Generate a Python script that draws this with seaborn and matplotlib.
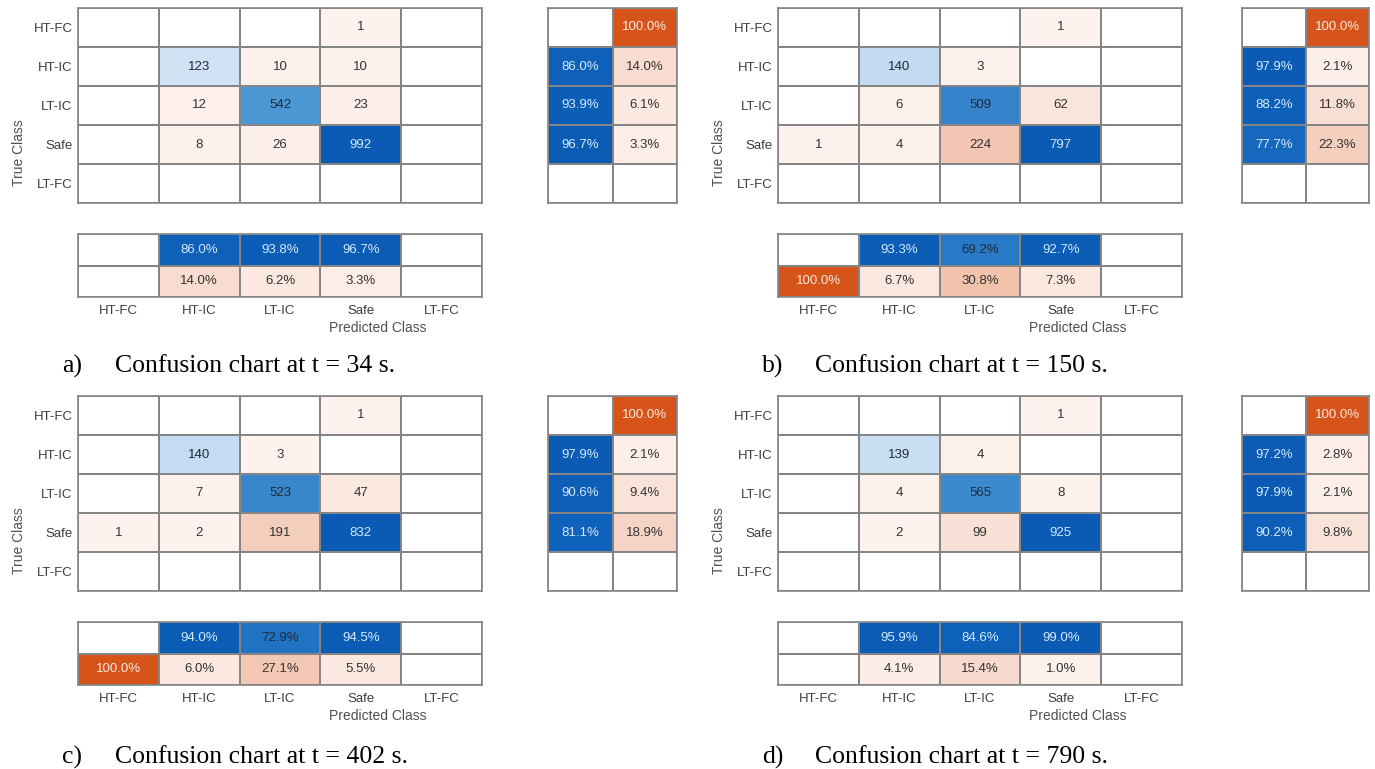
import numpy as np
import matplotlib.pyplot as plt
import seaborn as sns
from matplotlib.colors import LinearSegmentedColormap, ListedColormap

sns.set_style('white')
plt.rcParams['font.family'] = ['Liberation Sans', 'DejaVu Sans']

nan = np.nan
classes = ['HT-FC', 'HT-IC', 'LT-IC', 'Safe', 'LT-FC']
times = [34, 150, 402, 790]
letters = ['a)', 'b)', 'c)', 'd)']

# confusion matrices (rows = true class, cols = predicted class)
counts_a = [[0, 0, 0, 1, 0],
            [0, 123, 10, 10, 0],
            [0, 12, 542, 23, 0],
            [0, 8, 26, 992, 0],
            [0, 0, 0, 0, 0]]
counts_b = [[0, 0, 0, 1, 0],
            [0, 140, 3, 0, 0],
            [0, 6, 509, 62, 0],
            [1, 4, 224, 797, 0],
            [0, 0, 0, 0, 0]]
counts_c = [[0, 0, 0, 1, 0],
            [0, 140, 3, 0, 0],
            [0, 7, 523, 47, 0],
            [1, 2, 191, 832, 0],
            [0, 0, 0, 0, 0]]
counts_d = [[0, 0, 0, 1, 0],
            [0, 139, 4, 0, 0],
            [0, 4, 565, 8, 0],
            [0, 2, 99, 925, 0],
            [0, 0, 0, 0, 0]]

# row summary (% correct, % incorrect per true class)
row_pct_a = [[nan, 100.0], [86.0, 14.0], [93.9, 6.1], [96.7, 3.3], [nan, nan]]
row_pct_b = [[nan, 100.0], [97.9, 2.1], [88.2, 11.8], [77.7, 22.3], [nan, nan]]
row_pct_c = [[nan, 100.0], [97.9, 2.1], [90.6, 9.4], [81.1, 18.9], [nan, nan]]
row_pct_d = [[nan, 100.0], [97.2, 2.8], [97.9, 2.1], [90.2, 9.8], [nan, nan]]

# column summary (% correct row, % incorrect row per predicted class)
col_pct_a = [[nan, 86.0, 93.8, 96.7, nan], [nan, 14.0, 6.2, 3.3, nan]]
col_pct_b = [[nan, 93.3, 69.2, 92.7, nan], [100.0, 6.7, 30.8, 7.3, nan]]
col_pct_c = [[nan, 94.0, 72.9, 94.5, nan], [100.0, 6.0, 27.1, 5.5, nan]]
col_pct_d = [[nan, 95.9, 84.6, 99.0, nan], [nan, 4.1, 15.4, 1.0, nan]]

panels = [(counts_a, row_pct_a, col_pct_a),
          (counts_b, row_pct_b, col_pct_b),
          (counts_c, row_pct_c, col_pct_c),
          (counts_d, row_pct_d, col_pct_d)]

blue_cmap = LinearSegmentedColormap.from_list(
    'diag', [(0, '#eef4fb'), (0.15, '#cadef2'), (0.55, '#4a97d4'), (0.8, '#0f63bb'), (1, '#0b5ab3')])
orange_cmap = LinearSegmentedColormap.from_list('off', [(0, '#fdf2ed'), (1, '#d6541a')])
grid_color = '#858585'
label_color = '#3c3c3c'

W, H = 1375, 769
fig = plt.figure(figsize=(W / 100, H / 100), dpi=100)


def add_ax(x0, y0, x1, y1):
    return fig.add_axes([x0 / W, 1 - y1 / H, (x1 - x0) / W, (y1 - y0) / H])


def paint(ax, values, is_diag, vmax, fmt):
    values = np.asarray(values, dtype=float)
    empty = np.isnan(values) | (values == 0)
    labels = np.where(empty, '', np.vectorize(lambda v: fmt.format(v))(np.nan_to_num(values)))
    kw = dict(cbar=False, linewidths=1.2, linecolor=grid_color, ax=ax,
              xticklabels=False, yticklabels=False)
    sns.heatmap(np.zeros_like(values), cmap=ListedColormap(['white']), **kw)
    for mask, cmap in [(empty | ~is_diag, blue_cmap), (empty | is_diag, orange_cmap)]:
        if (~mask).any():
            sns.heatmap(values, mask=mask, cmap=cmap, vmin=0, vmax=vmax, annot=labels, fmt='',
                        annot_kws={'fontsize': 9.5}, **kw)
    # text colour: light on dark cells
    for txt in ax.texts:
        x, y = txt.get_position()
        r, c = int(y), int(x)
        t = values[r, c] / vmax
        if is_diag[r, c]:
            txt.set_color('#d4eaff' if t >= 0.75 else '#1d2a3a')
        else:
            txt.set_color('#fbeae2' if t >= 0.6 else '#333333')
    for sp in ax.spines.values():
        sp.set_visible(True)
        sp.set_color(grid_color)
        sp.set_linewidth(1.2)
    ax.tick_params(length=0, labelsize=9.5, labelcolor=label_color)


for k, (counts, row_pct, col_pct) in enumerate(panels):
    left = k % 2 == 0
    ox = 0 if left else 700
    oy = 0 if k < 2 else 388

    counts = np.array(counts)
    ax = add_ax(ox + 78, oy + 8, ox + 482, oy + 203)
    paint(ax, counts, np.eye(5, dtype=bool), counts.max(), '{:.0f}')
    ax.set_yticks(np.arange(5) + 0.5, classes, rotation=0)
    ax.tick_params(axis='y', pad=4)

    rx0, rx1 = (548, 677) if left else (542, 669)
    ax_row = add_ax(ox + rx0, oy + 8, ox + rx1, oy + 203)
    row_diag = np.zeros((5, 2), dtype=bool)
    row_diag[:, 0] = True
    paint(ax_row, row_pct, row_diag, 100, '{:.1f}%')

    ax_col = add_ax(ox + 78, oy + 234, ox + 482, oy + 297)
    col_diag = np.zeros((2, 5), dtype=bool)
    col_diag[0, :] = True
    paint(ax_col, col_pct, col_diag, 100, '{:.1f}%')
    ax_col.set_xticks(np.arange(5) + 0.5, classes, rotation=0)
    ax_col.tick_params(axis='x', pad=6)

    fig.text((ox + 19) / W, 1 - (oy + 153) / H, 'True Class', rotation=90,
             ha='center', va='center', fontsize=10, color='#505050')
    fig.text((ox + 378) / W, 1 - (oy + 328) / H, 'Predicted Class',
             ha='center', va='center', fontsize=10, color='#505050')

    cap_y = 1 - (oy + 366 if k < 2 else oy + 369) / H
    fig.text((ox + 62) / W, cap_y, letters[k], ha='left', va='center',
             fontsize=18.5, family='Liberation Serif', color='black')
    fig.text((ox + 115) / W, cap_y, f'Confusion chart at t = {times[k]} s.', ha='left', va='center',
             fontsize=18.5, family='Liberation Serif', color='black')

fig.savefig('out.png', dpi=100, facecolor='white')
